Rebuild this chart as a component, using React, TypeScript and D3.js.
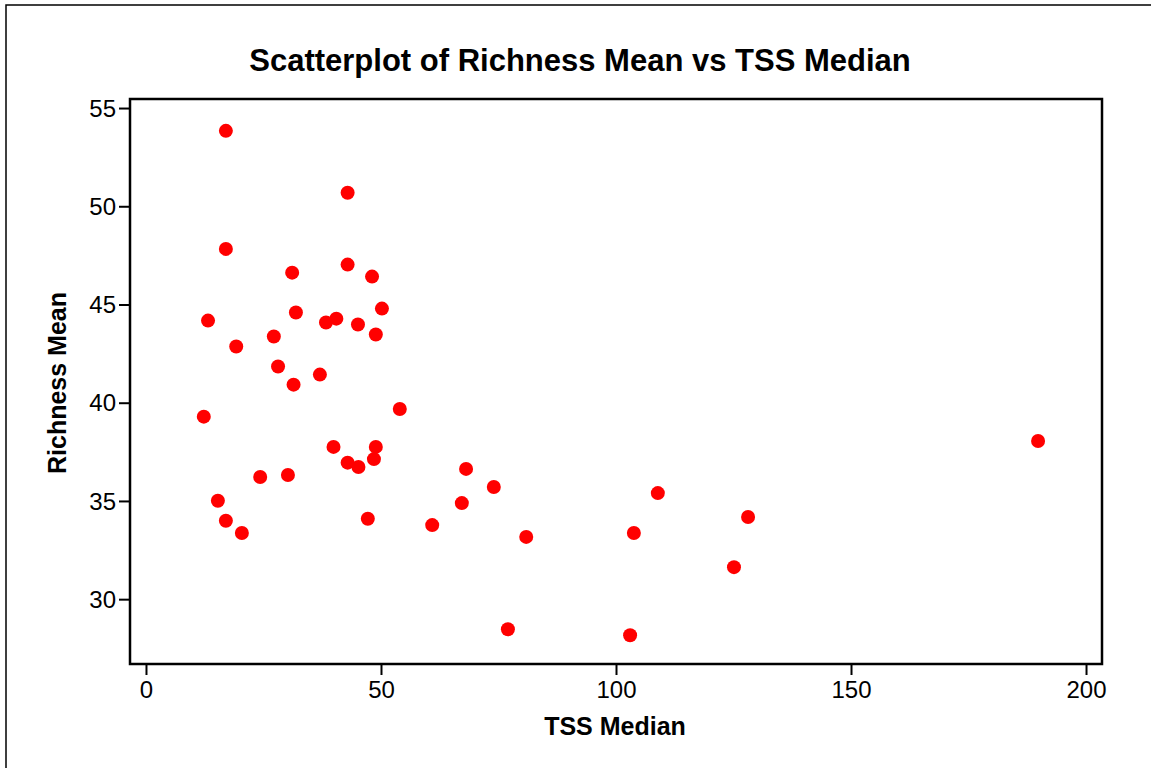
import React, { useEffect, useRef } from 'react';
import * as d3 from 'd3';

// TSS Median (x) and Richness Mean (y), one entry per site
const tssMedian = [
  17.0, 42.9, 17.0, 31.1, 42.9, 48.1, 13.2, 31.9, 38.3, 40.5, 45.1,
  50.2, 48.9, 27.2, 19.2, 28.1, 37.0, 31.4, 54.0, 12.3, 39.9, 48.9,
  189.8, 42.9, 45.2, 48.5, 68.1, 24.3, 30.2, 74.0, 108.9, 15.3, 17.0,
  47.2, 67.2, 60.9, 128.1, 103.8, 80.9, 20.4, 125.1, 77.0, 103.0
];
const richnessMean = [
  53.84, 50.69, 47.83, 46.62, 47.03, 46.42, 44.18, 44.59, 44.08, 44.28, 43.98,
  44.79, 43.47, 43.37, 42.86, 41.84, 41.43, 40.92, 39.68, 39.29, 37.75, 37.75,
  38.05, 36.95, 36.73, 37.13, 36.63, 36.22, 36.32, 35.71, 35.40, 35.01, 33.99,
  34.09, 34.89, 33.77, 34.18, 33.37, 33.17, 33.37, 31.63, 28.47, 28.16
];
const xTicks = [0, 50, 100, 150, 200];
const yTicks = [30, 35, 40, 45, 50, 55];

const title = 'Scatterplot of Richness Mean vs TSS Median';
const xLabel = 'TSS Median';
const yLabel = 'Richness Mean';

const App = () => {
  const svgRef = useRef<SVGSVGElement>(null);

  useEffect(() => {
    const svg = d3.select(svgRef.current);
    svg.selectAll('*').remove();

    const W = 1151;
    const H = 768;
    const plot = { left: 130, right: 1102, top: 99, bottom: 664 };
    const font = '"Liberation Sans", Arial, sans-serif';

    svg.attr('width', W).attr('height', H);

    // outer figure frame (runs off the right and bottom edges)
    svg.append('rect')
      .attr('x', 6).attr('y', 5)
      .attr('width', W).attr('height', H)
      .attr('fill', 'white')
      .attr('stroke', 'black')
      .attr('stroke-width', 1.5);

    // Scales
    const xScale = d3.scaleLinear().domain([-3.4, 203.4]).range([plot.left, plot.right]);
    const yScale = d3.scaleLinear().domain([26.7, 55.46]).range([plot.bottom, plot.top]);

    // Axes
    const xAxis = d3.axisBottom(xScale).tickValues(xTicks).tickSize(11).tickPadding(6);
    const yAxis = d3.axisLeft(yScale).tickValues(yTicks).tickSize(11).tickPadding(3);

    const gx = svg.append('g')
      .attr('transform', `translate(0,${plot.bottom})`)
      .call(xAxis);
    const gy = svg.append('g')
      .attr('transform', `translate(${plot.left},0)`)
      .call(yAxis);

    [gx, gy].forEach(g => {
      g.select('.domain').remove();
      g.selectAll('.tick line').attr('stroke', 'black').attr('stroke-width', 2);
      g.selectAll('.tick text')
        .attr('fill', 'black')
        .style('font-family', font)
        .style('font-size', '24px');
    });
    gy.selectAll('.tick text').attr('dy', '0.34em');

    // Plot frame
    svg.append('rect')
      .attr('x', plot.left).attr('y', plot.top)
      .attr('width', plot.right - plot.left)
      .attr('height', plot.bottom - plot.top)
      .attr('fill', 'none')
      .attr('stroke', 'black')
      .attr('stroke-width', 2.5);

    // Points
    svg.append('g')
      .selectAll('circle')
      .data(tssMedian.map((x, i) => ({ x, y: richnessMean[i] })))
      .enter()
      .append('circle')
      .attr('cx', d => xScale(d.x))
      .attr('cy', d => yScale(d.y))
      .attr('r', 7)
      .attr('fill', '#ff0000');

    // Titles
    svg.append('text')
      .attr('x', 580).attr('y', 71)
      .attr('text-anchor', 'middle')
      .style('font-family', font)
      .style('font-weight', 'bold')
      .style('font-size', '31px')
      .text(title);

    svg.append('text')
      .attr('x', 615).attr('y', 735)
      .attr('text-anchor', 'middle')
      .style('font-family', font)
      .style('font-weight', 'bold')
      .style('font-size', '25px')
      .text(xLabel);

    svg.append('text')
      .attr('transform', `translate(66,383) rotate(-90)`)
      .attr('text-anchor', 'middle')
      .style('font-family', font)
      .style('font-weight', 'bold')
      .style('font-size', '25px')
      .text(yLabel);
  }, []);

  return (
    <div style={{ position: 'absolute', left: 0, top: 0, width: 1151, height: 768, overflow: 'hidden', background: 'white' }}>
      <svg ref={svgRef} style={{ display: 'block' }}></svg>
    </div>
  );
};

export default App;
